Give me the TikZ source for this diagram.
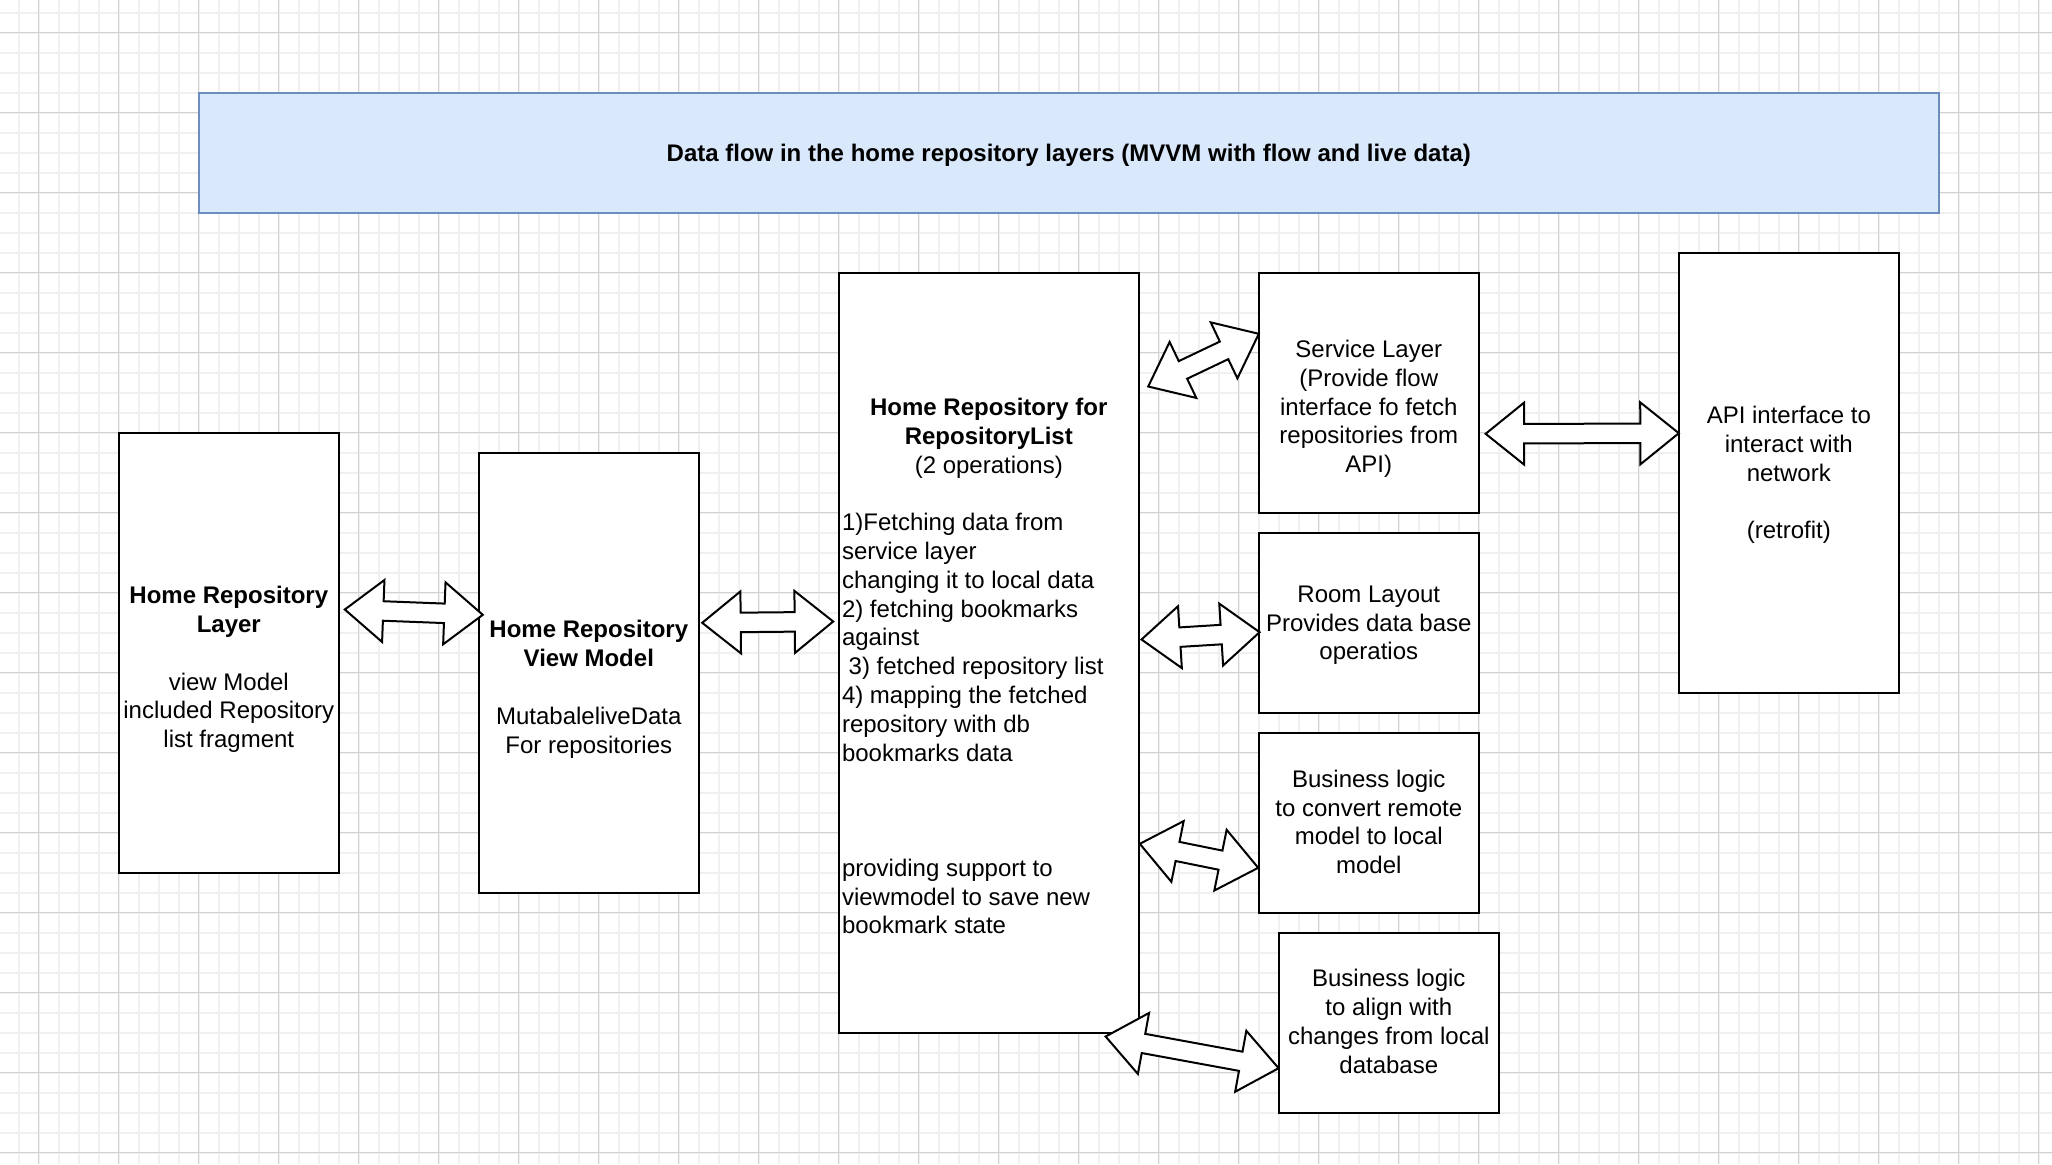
\documentclass[tikz,border=0pt]{standalone}
\usepackage{fontspec}
\setmainfont{Liberation Sans}
\usetikzlibrary{calc}
\definecolor{titlefill}{HTML}{DAE8FC}
\definecolor{titledraw}{HTML}{6C8EBF}
\definecolor{majorgrid}{HTML}{D2D2D2}
\definecolor{minorgrid}{HTML}{F0F0F0}
\newcommand\hl{38.5pt}
\newcommand\hw{31pt}
\newcommand\sw{9.75pt}
\newcommand\flexarrow[2]{%
  \draw[flexline] (#1)
    -- ($(#1)!\hl!(#2)!\hw!90:(#2)$)
    -- ($(#1)!\hl!(#2)!\sw!90:(#2)$)
    -- ($(#2)!\hl!(#1)!\sw!-90:(#1)$)
    -- ($(#2)!\hl!(#1)!\hw!-90:(#1)$)
    -- (#2)
    -- ($(#2)!\hl!(#1)!\hw!90:(#1)$)
    -- ($(#2)!\hl!(#1)!\sw!90:(#1)$)
    -- ($(#1)!\hl!(#2)!\sw!-90:(#2)$)
    -- ($(#1)!\hl!(#2)!\hw!-90:(#2)$)
    -- cycle;}
\begin{document}
\begin{tikzpicture}[x=1pt,y=-1pt,
  box/.style={draw=black, line width=2pt, fill=white, inner sep=0pt, outer sep=0pt, anchor=north west},
  titlebox/.style={draw=titledraw, line width=2pt, fill=titlefill, inner sep=0pt, outer sep=0pt, anchor=north west},
  txt/.style={inner sep=0pt, outer sep=0pt, font=\fontsize{24}{28.8}\selectfont, align=center, anchor=north},
  ltxt/.style={inner sep=0pt, outer sep=0pt, font=\fontsize{24}{28.8}\selectfont, align=left, anchor=north west},
  flexline/.style={draw=black, line width=2pt, fill=white, line join=miter},
  minorline/.style={draw=minorgrid, line width=1.5pt},
  majorline/.style={draw=majorgrid, line width=1pt}]
\useasboundingbox (0,0) rectangle (2052,1164);
\fill[white] (0,0) rectangle (2052,1164);
% grid
\foreach \i in {0,...,101} { \draw[minorline] ({18.8+20*\i},0) -- ({18.8+20*\i},1164); }
\foreach \i in {0,...,57} { \draw[minorline] (0,{12.8+20*\i}) -- (2052,{12.8+20*\i}); }
\foreach \i in {0,...,25} { \draw[majorline] ({38.8+80*\i},0) -- ({38.8+80*\i},1164); }
\foreach \i in {0,...,14} { \draw[majorline] (0,{32.8+80*\i}) -- (2052,{32.8+80*\i}); }

% title
\node[titlebox, minimum width=1740pt, minimum height=120pt] (title) at (198.8,92.8) {};
\node[txt] (titletext) at (1068.8,141.3) {\strut\bfseries Data flow in the home repository layers (MVVM with flow and live data)};

% boxes
\node[box, minimum width=220pt, minimum height=440pt] (A) at (118.8,432.8) {};
\node[box, minimum width=220pt, minimum height=440pt] (B) at (478.8,452.8) {};
\node[box, minimum width=300pt, minimum height=760pt] (C) at (838.8,272.8) {};
\node[box, minimum width=220pt, minimum height=240pt] (S) at (1258.8,272.8) {};
\node[box, minimum width=220pt, minimum height=440pt] (API) at (1678.8,252.8) {};
\node[box, minimum width=220pt, minimum height=180pt] (R) at (1258.8,532.8) {};
\node[box, minimum width=220pt, minimum height=180pt] (B1) at (1258.8,732.8) {};
\node[box, minimum width=220pt, minimum height=180pt] (B2) at (1278.8,932.8) {};

% texts
\node[txt] (Atext) at (228.8,583.6) {\strut\textbf{Home Repository}\\\textbf{Layer}\\\mbox{}\\view Model\\included Repository\\list fragment};
\node[txt] (Btext) at (588.8,617.7) {\strut\textbf{Home Repository}\\\textbf{View Model}\\\mbox{}\\MutabaleliveData\\For repositories};
\node[txt] (Chead) at (988.8,395.3) {\strut\textbf{Home Repository for}\\\textbf{RepositoryList}\\(2 operations)};
\node[ltxt] (Cbody) at (842,510.5) {\strut 1)Fetching data from\\service layer\\changing it to local data\\2) fetching bookmarks\\against\\\hspace*{6.7pt}3) fetched repository list\\4) mapping the fetched\\repository with db\\bookmarks data\\\mbox{}\\\mbox{}\\\mbox{}\\providing support to\\viewmodel to save new\\bookmark state};
\node[txt] (Stext) at (1368.8,337.3) {\strut Service Layer\\(Provide flow\\interface fo fetch\\repositories from\\API)};
\node[txt] (APItext) at (1788.8,403.3) {\strut API interface to\\interact with\\network\\\mbox{}\\(retrofit)};
\node[txt] (Rtext) at (1368.8,582.1) {\strut Room Layout\\Provides data base\\operatios};
\node[txt] (B1text) at (1368.8,767.1) {\strut Business logic\\to convert remote\\model to local\\model};
\node[txt] (B2text) at (1388.8,966.8) {\strut Business logic\\to align with\\changes from local\\database};

% arrow end points
\coordinate (ab1) at (344.8,609.5);
\coordinate (ab2) at (482.8,614.8);
\coordinate (bc1) at (702.2,622.8);
\coordinate (bc2) at (833.2,621.5);
\coordinate (cs1) at (1148.2,386.5);
\coordinate (cs2) at (1258.8,333.8);
\coordinate (sa1) at (1485.6,433.8);
\coordinate (sa2) at (1678.8,433.2);
\coordinate (cr1) at (1141.5,639.5);
\coordinate (cr2) at (1259.6,632.2);
\coordinate (cb11) at (1139.8,843.8);
\coordinate (cb12) at (1258.2,867.8);
\coordinate (cb21) at (1105.6,1036.5);
\coordinate (cb22) at (1278.6,1068.2);

\flexarrow{ab1}{ab2}
\flexarrow{bc1}{bc2}
\flexarrow{cs1}{cs2}
\flexarrow{sa1}{sa2}
\flexarrow{cr1}{cr2}
\flexarrow{cb11}{cb12}
\flexarrow{cb21}{cb22}
\end{tikzpicture}
\end{document}
